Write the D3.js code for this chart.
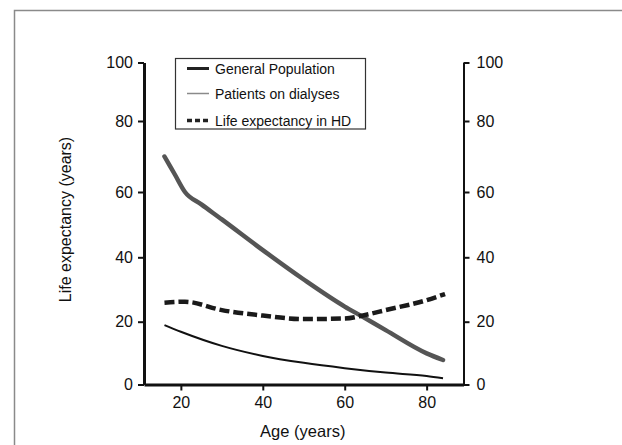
<!DOCTYPE html>
<html>
<head>
<meta charset="utf-8">
<script src="https://cdnjs.cloudflare.com/ajax/libs/d3/7.8.5/d3.min.js"></script>
<style>
    body { margin: 0; background: #fff; }
    svg { display: block; font-family: "Liberation Sans", Arial, sans-serif; }
</style>
</head>
<body>
<div id="chart"></div>
<script>
// values (life expectancy in years by age)
var ages = [16, 18.5, 21, 25, 30, 40, 50, 60, 64, 70, 80, 84];
var generalPopulation = [70, 65, 60, 56.2, 51.6, 42.2, 33.1, 24.7, 21.8, 17.3, 9.9, 7.8];
var dialysisAges = [16, 20, 30, 40, 50, 60, 70, 80, 84];
var dialysisPatients = [18.9, 16.8, 12.3, 9.1, 6.9, 5.2, 3.8, 2.7, 2.0];
var hdAges = [16, 21, 30, 40, 50, 60, 65, 70, 80, 84.5];
var hdLifeExpectancy = [25.9, 26.2, 23.6, 21.9, 20.8, 21.0, 22.1, 23.6, 26.7, 28.6];
var xTicks = [20, 40, 60, 80];
var yTicks = [0, 20, 40, 60, 80, 100];
var legendLabels = ["General Population", "Patients on dialyses", "Life expectancy in HD"];

var width = 622, height = 445;

var svg = d3.select("#chart").append("svg")
        .attr("width", width)
        .attr("height", height);

// outer frame, open on right and bottom
svg.append("path")
        .attr("d", "M14.5," + height + "V10.5H" + width)
        .attr("fill", "none")
        .attr("stroke", "#8a8a8a")
        .attr("stroke-width", 1.5);

var x = d3.scaleLinear().domain([11, 89]).range([144, 463.5]);
// the printed axis spacing is slightly uneven, so map each tick
var y = d3.scaleLinear()
        .domain([0, 20, 40, 60, 80, 100])
        .range([384.5, 321.7, 257.3, 192, 121, 62.5]);

function styleAxis(g, w) {
    g.selectAll(".domain").attr("stroke", "#111").attr("stroke-width", w);
    g.selectAll(".tick line").attr("stroke", "#111").attr("stroke-width", 2);
    g.selectAll(".tick text").attr("fill", "#111").style("font-size", "16px");
}

var gx = svg.append("g")
        .attr("transform", "translate(0," + y(0) + ")")
        .call(d3.axisBottom(x).tickValues(xTicks).tickSize(6).tickPadding(6).tickSizeOuter(0));
styleAxis(gx, 3);

var gy = svg.append("g")
        .attr("transform", "translate(" + x.range()[0] + ",0)")
        .call(d3.axisLeft(y).tickValues(yTicks).tickSize(6).tickPadding(5).tickSizeOuter(0));
styleAxis(gy, 3);

var gy2 = svg.append("g")
        .attr("transform", "translate(" + x.range()[1] + ",0)")
        .call(d3.axisRight(y).tickValues(yTicks).tickSize(6).tickPadding(7).tickSizeOuter(0));
styleAxis(gy2, 2);

svg.append("text")
        .attr("x", (x(xTicks[0]) + x(xTicks[3])) / 2 - 1)
        .attr("y", 437)
        .attr("text-anchor", "middle")
        .attr("fill", "#111")
        .style("font-size", "16.5px")
        .text("Age (years)");

svg.append("text")
        .attr("transform", "translate(71," + ((y(0) + y(100)) / 2 - 4) + ") rotate(-90)")
        .attr("text-anchor", "middle")
        .attr("fill", "#111")
        .style("font-size", "16px")
        .text("Life expectancy (years)");

var line = d3.line()
        .x(function (d) { return x(d[0]); })
        .y(function (d) { return y(d[1]); })
        .curve(d3.curveMonotoneX);

svg.append("path")
        .attr("d", line(d3.zip(ages, generalPopulation)))
        .attr("fill", "none")
        .attr("stroke", "#555")
        .attr("stroke-width", 4.5)
        .attr("stroke-linecap", "round");

svg.append("path")
        .attr("d", line(d3.zip(dialysisAges, dialysisPatients)))
        .attr("fill", "none")
        .attr("stroke", "#111")
        .attr("stroke-width", 2);

svg.append("path")
        .attr("d", line(d3.zip(hdAges, hdLifeExpectancy)))
        .attr("fill", "none")
        .attr("stroke", "#1a1a1a")
        .attr("stroke-width", 4.5)
        .attr("stroke-dasharray", "10,4");

// legend
var legend = svg.append("g");
legend.append("rect")
        .attr("x", 175.5).attr("y", 58.5)
        .attr("width", 190).attr("height", 70.5)
        .attr("fill", "#fff")
        .attr("stroke", "#333")
        .attr("stroke-width", 1.2);

var legendStyles = [
    {stroke: "#222", width: 3, dash: null},
    {stroke: "#8a8a8a", width: 1.5, dash: null},
    {stroke: "#222", width: 3.5, dash: "5,3"}
];
var rowY = [68.5, 93.5, 120.5];

legendLabels.forEach(function (label, i) {
    legend.append("line")
            .attr("x1", 187).attr("x2", 209)
            .attr("y1", rowY[i]).attr("y2", rowY[i])
            .attr("stroke", legendStyles[i].stroke)
            .attr("stroke-width", legendStyles[i].width)
            .attr("stroke-dasharray", legendStyles[i].dash);
    legend.append("text")
            .attr("x", 215)
            .attr("y", rowY[i] + 5)
            .attr("fill", "#111")
            .style("font-size", "14px")
            .text(label);
});
</script>
</body>
</html>
